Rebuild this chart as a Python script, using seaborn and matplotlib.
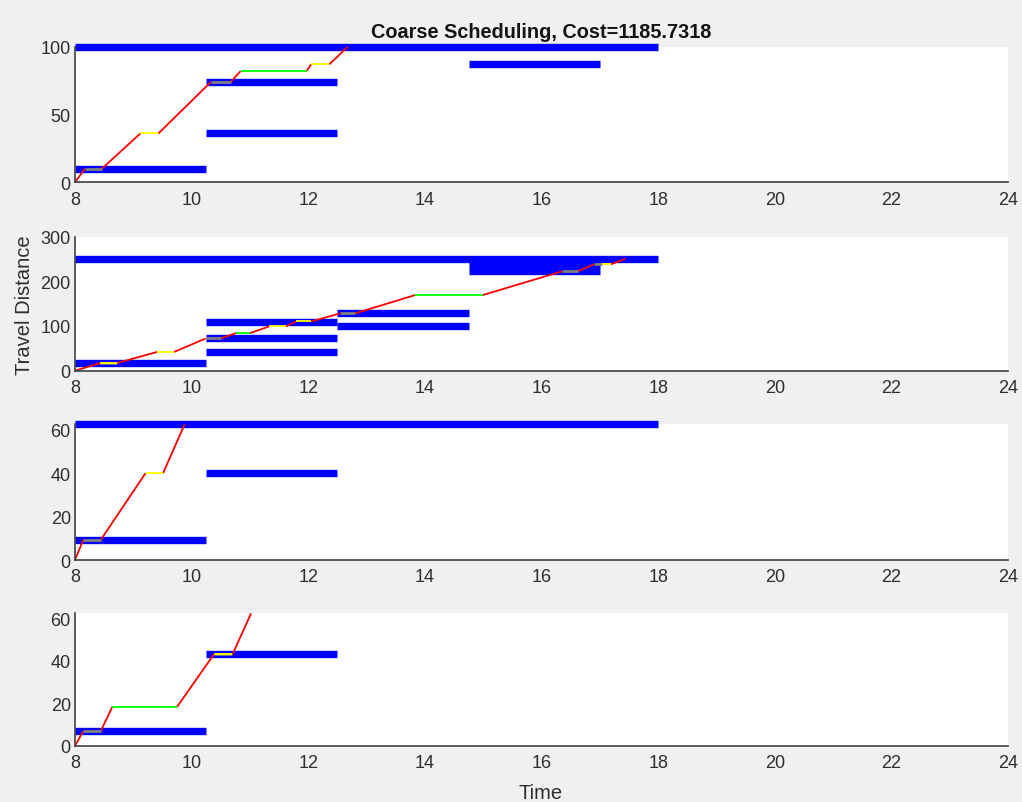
import numpy as np
import pandas as pd
import matplotlib
matplotlib.use("Agg")
import matplotlib.pyplot as plt
import seaborn as sns

# ---------------- data ----------------
title_text = "Coarse Scheduling, Cost=1185.7318"
x_label = "Time"
y_label = "Travel Distance"
x_ticks = [8, 10, 12, 14, 16, 18, 20, 22, 24]

# subplot 1
bars1_d = [100, 10, 74, 36, 87]
bars1_start = [8, 8, 10.25, 10.25, 14.75]
bars1_end = [18, 10.25, 12.5, 12.5, 17]
route1_t = [8, 8.17, 8.46, 9.12, 9.43, 10.33, 10.67, 10.84, 11.97, 12.05, 12.36, 12.68]
route1_d = [0, 10, 10, 36, 36, 74, 74, 82, 82, 87, 87, 100]
route1_k = ["travel", "service", "travel", "wait", "travel", "service", "travel",
            "idle", "travel", "wait", "travel"]
ylim1 = 100
yticks1 = [0, 50, 100]

# subplot 2
bars2_d = [250, 17, 109, 72, 42, 128, 100, 238, 222]
bars2_start = [8, 8, 10.25, 10.25, 10.25, 12.5, 12.5, 14.75, 14.75]
bars2_end = [18, 10.25, 12.5, 12.5, 12.5, 14.75, 14.75, 17, 17]
route2_t = [8, 8.43, 8.72, 9.41, 9.7, 10.24, 10.5, 10.76, 11.0, 11.33, 11.62, 11.79,
            12.05, 12.54, 12.8, 13.83, 14.99, 16.35, 16.62, 16.9, 17.04, 17.19, 17.44]
route2_d = [0, 17, 17, 42, 42, 72, 72, 84, 84, 99, 99, 110,
            110, 128, 128, 169, 169, 222, 222, 238, 238, 238, 250]
route2_k = ["travel", "both", "travel", "wait", "travel", "service", "travel", "idle",
            "travel", "wait", "travel", "wait", "travel", "service", "travel", "idle",
            "travel", "service", "travel", "service", "wait", "travel"]
ylim2 = 300
yticks2 = [0, 100, 200, 300]

# subplot 3
bars3_d = [62.5, 9.2, 40]
bars3_start = [8, 8, 10.25]
bars3_end = [18, 10.25, 12.5]
route3_t = [8, 8.14, 8.44, 9.21, 9.51, 9.88]
route3_d = [0, 9.2, 9.2, 40, 40, 62.5]
route3_k = ["travel", "service", "travel", "wait", "travel"]
ylim3 = 62.5
yticks3 = [0, 20, 40, 60]

# subplot 4
bars4_d = [6.8, 43]
bars4_start = [8, 10.25]
bars4_end = [10.25, 12.5]
route4_t = [8, 8.14, 8.44, 8.64, 9.75, 10.38, 10.7, 11.02]
route4_d = [0, 6.8, 6.8, 18.3, 18.3, 43, 43, 62.4]
route4_k = ["travel", "service", "travel", "idle", "travel", "both", "travel"]
ylim4 = 62.4
yticks4 = [0, 20, 40, 60]

kind_colors = {"travel": "#FF0000", "service": "#808080", "wait": "#FFFF00", "idle": "#00FF00"}
kind_widths = {"travel": 1.3, "service": 2.0, "wait": 1.3, "idle": 1.3}

panels = [
    (bars1_d, bars1_start, bars1_end, route1_t, route1_d, route1_k, ylim1, yticks1),
    (bars2_d, bars2_start, bars2_end, route2_t, route2_d, route2_k, ylim2, yticks2),
    (bars3_d, bars3_start, bars3_end, route3_t, route3_d, route3_k, ylim3, yticks3),
    (bars4_d, bars4_start, bars4_end, route4_t, route4_d, route4_k, ylim4, yticks4),
]

# ---------------- style ----------------
sns.set_theme(style="white")
plt.rcParams["font.family"] = ["Liberation Sans", "DejaVu Sans"]

fig = plt.figure(figsize=(10.22, 8.03), dpi=100, facecolor="#F0F0F0")

W, H = 1022.0, 803.0
left_px, right_px = 75.0, 1008.0
rects_px = [(47.7, 183.3), (237.5, 371.7), (425.3, 561.0), (614.3, 746.7)]

axis_col = "#404040"
text_col = "#2E2E2E"

axes = []
for (top, bot), (bd, bs, be, rt, rd, rk, ylim, yt) in zip(rects_px, panels):
    ax = fig.add_axes([left_px / W, 1 - bot / H, (right_px - left_px) / W, (bot - top) / H])
    ax.set_facecolor("white")

    # blue time-window bars
    bar_rows = []
    for i, (d, s, e) in enumerate(zip(bd, bs, be)):
        bar_rows.append({"bar": i, "t": s, "d": d})
        bar_rows.append({"bar": i, "t": e, "d": d})
    bar_df = pd.DataFrame(bar_rows)
    n_before = len(ax.lines)
    sns.lineplot(data=bar_df, x="t", y="d", units="bar", estimator=None, sort=False,
                 color="#0000FF", linewidth=5.3, legend=False, ax=ax)
    for ln in ax.lines[n_before:]:
        ln.set_clip_on(False)
        ln.set_solid_capstyle("butt")

    # route segments
    seg_rows = []
    sid = 0
    for j, k in enumerate(rk):
        kinds = ["service", "wait"] if k == "both" else [k]
        for kk in kinds:
            seg_rows.append({"seg": sid, "kind": kk, "t": rt[j], "d": rd[j]})
            seg_rows.append({"seg": sid, "kind": kk, "t": rt[j + 1], "d": rd[j + 1]})
            sid += 1
    seg_df = pd.DataFrame(seg_rows)
    for kk in ["travel", "service", "wait", "idle"]:
        sub = seg_df[seg_df["kind"] == kk]
        if len(sub) == 0:
            continue
        n_before = len(ax.lines)
        sns.lineplot(data=sub, x="t", y="d", units="seg", estimator=None, sort=False,
                     color=kind_colors[kk], linewidth=kind_widths[kk], legend=False, ax=ax)
        for ln in ax.lines[n_before:]:
            ln.set_solid_capstyle("butt")

    ax.set_xlim(8, 24)
    ax.set_ylim(0, ylim)
    ax.set_xticks(x_ticks)
    ax.set_yticks(yt)
    ax.set_xlabel("")
    ax.set_ylabel("")
    for sp in ["top", "right"]:
        ax.spines[sp].set_visible(False)
    for sp in ["left", "bottom"]:
        ax.spines[sp].set_color(axis_col)
        ax.spines[sp].set_linewidth(1.2)
    ax.tick_params(axis="both", direction="in", length=4.5, width=1.0, color=axis_col,
                   labelsize=13, labelcolor=text_col)
    ax.tick_params(axis="x", pad=6)
    ax.tick_params(axis="y", pad=3)
    ax.grid(False)
    axes.append(ax)

fig.text((left_px + right_px) / 2 / W, 1 - 32 / H, title_text, ha="center", va="center",
         fontsize=14.3, fontweight="bold", color="#141414")
fig.text(25 / W, 1 - 305 / H, y_label, ha="center", va="center", rotation=90,
         fontsize=14.5, color=text_col)
fig.text(541 / W, 1 - 794 / H, x_label, ha="center", va="center",
         fontsize=14.5, color=text_col)

fig.savefig("out.png", dpi=100, facecolor=fig.get_facecolor())
